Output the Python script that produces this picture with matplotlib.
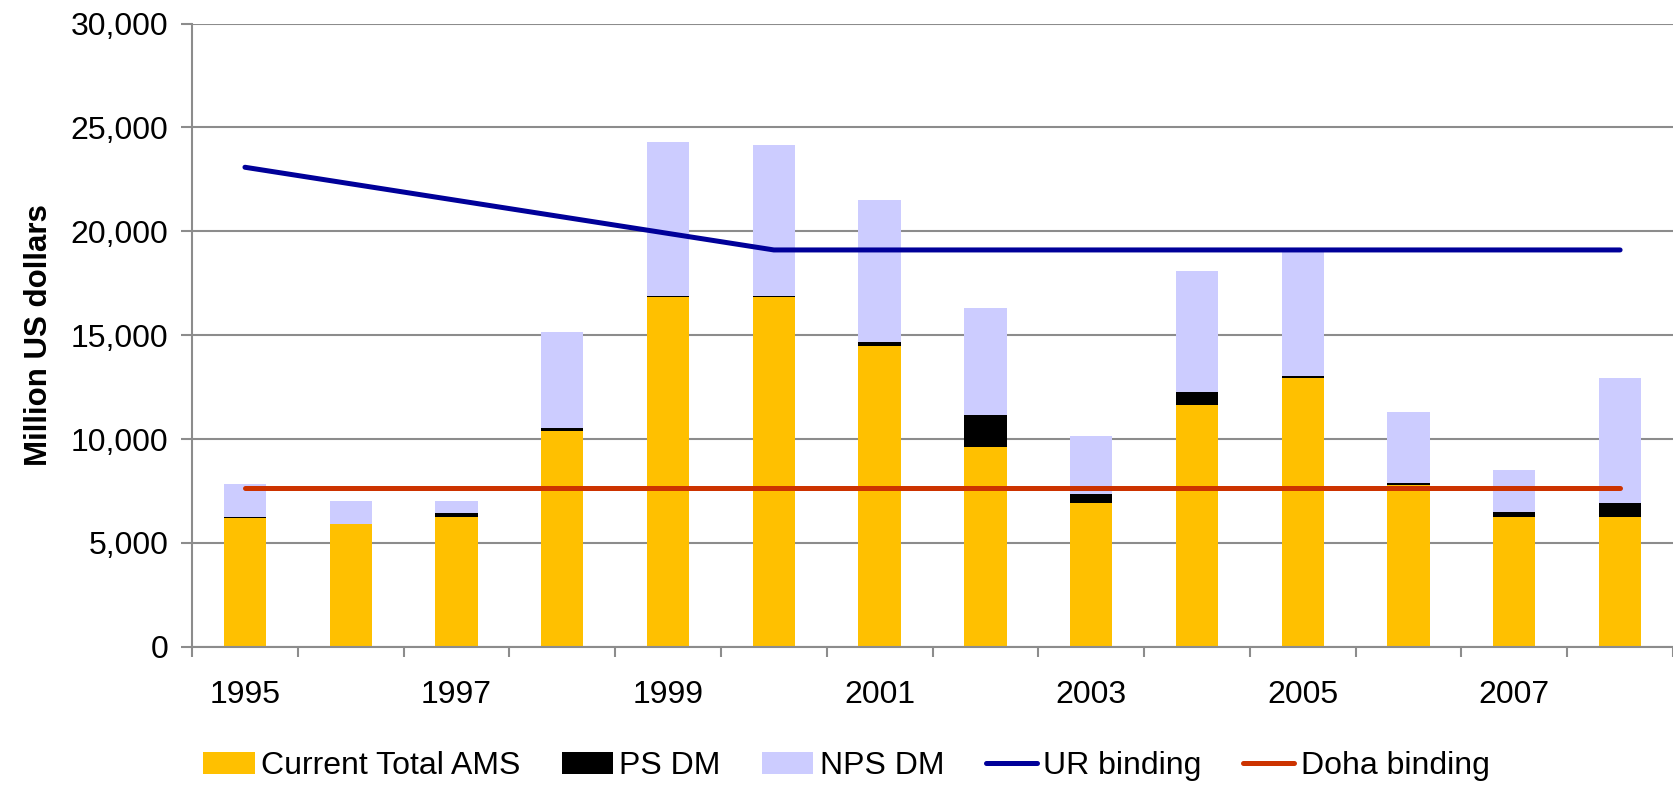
import numpy as np
import matplotlib
matplotlib.use("Agg")
import matplotlib.pyplot as plt

plt.rcParams['font.family'] = ['Liberation Sans', 'DejaVu Sans']

# Data (million US dollars)
years = [1995, 1996, 1997, 1998, 1999, 2000, 2001, 2002, 2003, 2004, 2005, 2006, 2007, 2008]
current_ams = [6220, 5890, 6240, 10380, 16860, 16860, 14460, 9620, 6930, 11620, 12930, 7790, 6230, 6230]
ps_dm = [50, 30, 220, 130, 30, 30, 220, 1560, 430, 660, 90, 100, 260, 710]
nps_dm = [1590, 1120, 580, 4620, 7390, 7280, 6840, 5120, 2810, 5790, 5980, 3430, 2010, 5980]
ur_binding = [23083, 22287, 21491, 20695, 19899, 19103, 19103, 19103, 19103, 19103, 19103, 19103, 19103, 19103]
doha_binding = [7641] * 14

yellow = '#FFC000'
lavender = '#CCCCFF'
grid_gray = '#8C8C8C'

fig = plt.figure(figsize=(16.73, 7.85), dpi=100)
ax = fig.add_axes([0.1148, 0.176, 0.8852, 0.794])

x = np.arange(len(years))
w = 0.4
cur = np.array(current_ams)
ps = np.array(ps_dm)
nps = np.array(nps_dm)

b1 = ax.bar(x, cur, w, color=yellow, label='Current Total AMS', zorder=2)
b2 = ax.bar(x, ps, w, bottom=cur, color='black', label='PS DM', zorder=2)
b3 = ax.bar(x, nps, w, bottom=cur + ps, color=lavender, label='NPS DM', zorder=2)
l1, = ax.plot(x, ur_binding, color='#000099', lw=3.6, solid_capstyle='round', label='UR binding', zorder=3)
l2, = ax.plot(x, doha_binding, color='#CC3300', lw=3.6, solid_capstyle='round', label='Doha binding', zorder=3)

ax.set_xlim(-0.5, len(years) - 0.5)
ax.set_ylim(0, 30000)
ax.set_yticks(np.arange(0, 30001, 5000))
ax.set_yticklabels([f'{v:,}' for v in range(0, 30001, 5000)])
ax.yaxis.grid(True, color=grid_gray, lw=1.5, zorder=0)
ax.set_axisbelow(True)

ax.set_xticks(x[::2])
ax.set_xticklabels([str(y) for y in years[::2]])
ax.set_xticks(np.arange(-0.5, len(years), 1.0), minor=True)
ax.tick_params(axis='x', which='major', length=0, pad=24, labelsize=23)
ax.tick_params(axis='x', which='minor', length=7, width=1.5, color=grid_gray)
ax.tick_params(axis='y', length=8, width=1.5, color=grid_gray, pad=9, labelsize=23)

for side in ['top', 'right']:
    ax.spines[side].set_visible(False)
for side in ['left', 'bottom']:
    ax.spines[side].set_color(grid_gray)
    ax.spines[side].set_linewidth(1.5)

ax.set_ylabel('Million US dollars', fontsize=22.5, fontweight='bold', labelpad=12)

fig.legend([b1, b2, b3, l1, l2],
           ['Current Total AMS', 'PS DM', 'NPS DM', 'UR binding', 'Doha binding'],
           loc='center', bbox_to_anchor=(0.506, 0.024), ncol=5, frameon=False,
           fontsize=23, handlelength=1.6, handletextpad=0.2, columnspacing=1.3)

fig.savefig('out.png', dpi=100)
